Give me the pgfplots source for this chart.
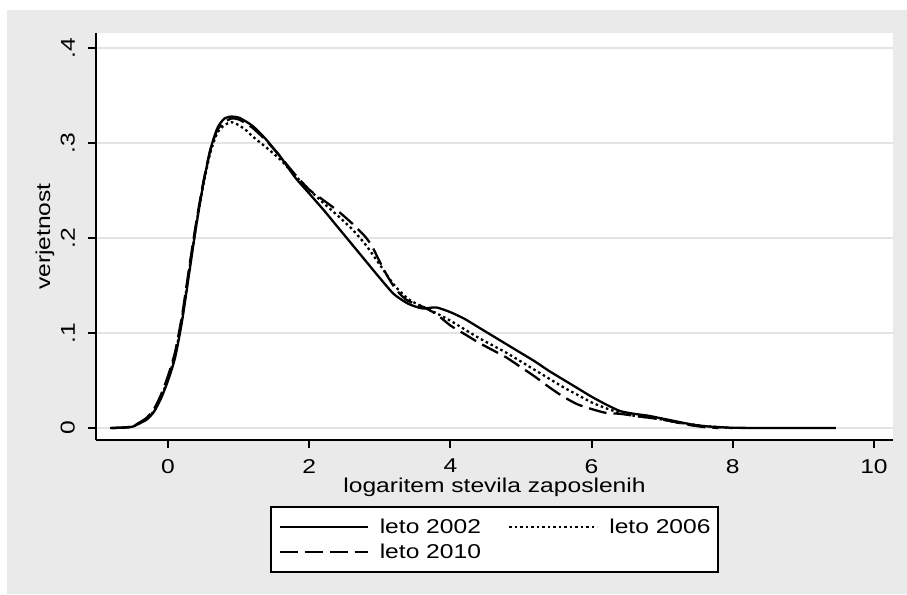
\documentclass[border=0pt]{standalone}
\usepackage{fontspec}
\setmainfont[FakeStretch=1.23]{Liberation Sans}
\usepackage{pgfplots}
\pgfplotsset{compat=1.18}
\definecolor{stbg}{RGB}{234,234,234}
\definecolor{stgrid}{RGB}{228,228,228}
\newcommand\stfont{\fontsize{20}{24}\selectfont}

\begin{document}
\begin{tikzpicture}[font=\stfont]
% graph region
\fill[white] (-96pt,-154pt) rectangle (811pt,440pt);
\fill[stbg] (-89pt,-154pt) rectangle (811pt,430pt);
\begin{axis}[
    anchor=south west, at={(0pt,0pt)},
    scale only axis, width=797pt, height=407pt,
    xmin=-1.02, xmax=10.27, ymin=-0.0126, ymax=0.416,
    axis background/.style={fill=white},
    axis x line*=bottom, axis y line*=left,
    axis line style={black, line width=2pt, -},
    xtick={0,2,4,6,8,10}, xticklabels={0,2,4,6,8,10},
    ytick={0,0.1,0.2,0.3,0.4}, yticklabels={0,.1,.2,.3,.4},
    /pgf/number format/assume math mode=true,
    tick align=outside, major tick length=8pt,
    tick style={black, line width=2pt},
    ymajorgrids, grid style={stgrid, line width=2.5pt},
    every tick label/.append style={font=\stfont},
    xticklabel style={anchor=north, inner sep=0pt},
    xticklabel shift=11pt,
    yticklabel style={rotate=90, anchor=south, inner sep=0pt},
    yticklabel shift=13pt,
    xlabel={logaritem stevila zaposlenih},
    xlabel style={at={(axis description cs:0.5,0)}, anchor=base, yshift=-52pt, inner sep=0pt, font=\stfont},
    ylabel={verjetnost},
    ylabel style={at={(axis description cs:-0.064,0.5)}, anchor=center, inner sep=0pt, font=\stfont},
    legend columns=2, legend cell align=left,
    legend image code/.code={\draw[#1] (0pt,0pt) -- (88pt,0pt);},
    legend style={at={(0.5,-0.162)}, anchor=north, draw=black, line width=2pt,
        fill=white, font=\stfont, inner xsep=7pt, inner ysep=13pt, row sep=11pt,
        nodes={inner sep=0pt, text height=14pt, text depth=0pt},
        /tikz/every odd column/.append style={column sep=11pt},
        /tikz/every even column/.append style={column sep=27pt}},
]
% leto 2002
\addplot[black, line width=2.3pt, line join=round, smooth, tension=0.4] coordinates {
(-0.82,0) (-0.6,0.0005) (-0.5,0.0015) (-0.4,0.005) (-0.3,0.009) (-0.2,0.017)
(-0.1,0.031) (0,0.05) (0.1,0.074) (0.2,0.113) (0.3,0.163) (0.4,0.213)
(0.5,0.257) (0.6,0.293) (0.7,0.316) (0.8,0.326) (0.9,0.328) (1.0,0.327)
(1.1,0.323) (1.2,0.318) (1.3,0.311) (1.4,0.303) (1.5,0.294) (1.6,0.285)
(1.8,0.264) (2.0,0.247) (2.2,0.23) (2.4,0.212) (2.6,0.194) (2.8,0.176)
(3.0,0.158) (3.2,0.141) (3.4,0.131) (3.6,0.126) (3.8,0.127) (4.0,0.122)
(4.2,0.115) (4.4,0.106) (4.6,0.097) (4.8,0.088) (5.0,0.079) (5.2,0.07)
(5.4,0.06) (5.6,0.051) (5.8,0.042) (6.0,0.033) (6.2,0.025) (6.4,0.018)
(6.6,0.015) (6.8,0.013) (7.0,0.01) (7.2,0.007) (7.4,0.004) (7.6,0.002)
(7.8,0.001) (8.0,0.0003) (8.5,0) (9.46,0)
};
\addlegendentry{leto 2002}
% leto 2006
\addplot[black, line width=2.3pt, dash pattern=on 2.5pt off 3pt, smooth, tension=0.4] coordinates {
(-0.8,0) (-0.6,0.0006) (-0.5,0.0017) (-0.4,0.005) (-0.3,0.01) (-0.2,0.018)
(-0.1,0.032) (0,0.052) (0.1,0.077) (0.2,0.116) (0.3,0.166) (0.4,0.214)
(0.5,0.256) (0.6,0.29) (0.7,0.311) (0.8,0.319) (0.9,0.322) (1.0,0.319)
(1.1,0.314) (1.2,0.307) (1.4,0.295) (1.6,0.282) (1.8,0.266) (2.0,0.251)
(2.2,0.237) (2.4,0.224) (2.6,0.21) (2.8,0.193) (3.0,0.172) (3.2,0.151)
(3.4,0.136) (3.6,0.128) (3.8,0.121) (4.0,0.113) (4.2,0.104) (4.4,0.095)
(4.6,0.087) (4.8,0.079) (5.0,0.07) (5.2,0.061) (5.4,0.052) (5.6,0.043)
(5.8,0.035) (6.0,0.027) (6.2,0.021) (6.4,0.016) (6.6,0.013) (6.8,0.011)
(7.0,0.009) (7.2,0.006) (7.4,0.004) (7.6,0.002) (7.8,0.001) (8.0,0)
};
\addlegendentry{leto 2006}
% leto 2010
\addplot[black, line width=2.3pt, dash pattern=on 18pt off 7pt, smooth, tension=0.4] coordinates {
(-0.8,0) (-0.6,0.0007) (-0.5,0.002) (-0.4,0.006) (-0.3,0.011) (-0.2,0.02)
(-0.1,0.035) (0,0.055) (0.1,0.08) (0.2,0.119) (0.3,0.169) (0.4,0.217)
(0.5,0.259) (0.6,0.293) (0.7,0.314) (0.8,0.322) (0.9,0.326) (1.0,0.325)
(1.1,0.321) (1.2,0.316) (1.4,0.302) (1.6,0.285) (1.8,0.267) (2.0,0.251)
(2.2,0.24) (2.4,0.229) (2.6,0.216) (2.8,0.201) (2.9,0.19) (3.0,0.175)
(3.1,0.161) (3.2,0.149) (3.3,0.14) (3.4,0.134) (3.6,0.128) (3.8,0.12)
(4.0,0.108) (4.2,0.099) (4.4,0.09) (4.6,0.082) (4.8,0.074) (5.0,0.064)
(5.2,0.054) (5.4,0.043) (5.6,0.033) (5.8,0.025) (6.0,0.02) (6.2,0.016)
(6.4,0.015) (6.6,0.013) (6.8,0.011) (7.0,0.009) (7.2,0.006) (7.4,0.003)
(7.6,0.001) (7.8,0)
};
\addlegendentry{leto 2010}
\end{axis}
\pgfresetboundingbox
\path (-96pt,-154pt) rectangle (811pt,440pt);
\end{tikzpicture}
\end{document}
